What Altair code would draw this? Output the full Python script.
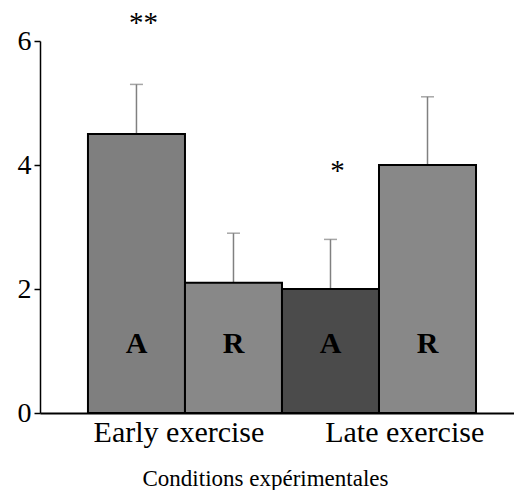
import altair as alt
import pandas as pd

bars = ["Early A", "Early R", "Late A", "Late R"]
letters = ["A", "R", "A", "R"]
means = [4.5, 2.1, 2.0, 4.0]
errors = [0.8, 0.8, 0.8, 1.1]
fills = ["#7f7f7f", "#888888", "#4b4b4b", "#888888"]
groups = ["Early exercise", "Late exercise"]
group_anchor = ["Early A", "Late R"]
stars = ["**", "*"]
star_anchor = ["Early A", "Late A"]

df = pd.DataFrame({"bar": bars, "letter": letters, "mean": means, "err": errors})
df["top"] = df["mean"] + df["err"]

FONT = "Liberation Serif"

xscale = alt.Scale(domain=bars, paddingInner=0, paddingOuter=0.443, align=0.558)
xaxis = alt.Axis(labels=False, ticks=False, grid=False, domainColor="black", domainWidth=2,
                 title="Conditions expérimentales", titleFont=FONT, titleFontSize=23,
                 titleFontWeight="normal", titleColor="black", titlePadding=72,
                 titleBaseline="alphabetic", titleX=225, titleAlign="center")
yscale = alt.Scale(domain=[0, 6], nice=False, zero=True)
yaxis = alt.Axis(values=[0, 2, 4, 6], title=None, grid=False, labelFont=FONT, labelFontSize=28,
                 labelColor="black", tickColor="black", tickSize=6, tickWidth=1.5,
                 domainColor="black", domainWidth=1.5, labelPadding=3)

X = alt.X("bar:N", scale=xscale, axis=xaxis)

base = alt.Chart(df)

err_rule = base.mark_rule(color="#808080", strokeWidth=1.5).encode(
    x=X, y=alt.Y("mean:Q", scale=yscale, axis=yaxis), y2="top:Q")
err_cap = base.mark_tick(color="#808080", thickness=1.5, size=13).encode(
    x=X, y=alt.Y("top:Q", scale=yscale, axis=yaxis))

bar = base.mark_bar(stroke="black", strokeWidth=2).encode(
    x=X,
    y=alt.Y("mean:Q", scale=yscale, axis=yaxis),
    color=alt.Color("bar:N", scale=alt.Scale(domain=bars, range=fills), legend=None),
)

letter = base.mark_text(font=FONT, fontSize=30, fontWeight="bold", color="black",
                        baseline="alphabetic", dy=-60).encode(
    x=X, y=alt.datum(0, scale=yscale, axis=yaxis), text="letter:N")

# significance stars placed above error bars
star_df = pd.DataFrame({"bar": star_anchor, "star": stars})
star_df = star_df.merge(df[["bar", "top"]], on="bar")
star_layers = []
for s, ddy in zip(stars, [-52, -59]):
    star_layers.append(
        alt.Chart(star_df).transform_filter(alt.datum.star == s).mark_text(
            font=FONT, fontSize=29, color="black", baseline="alphabetic", dx=7, dy=ddy
        ).encode(x=X, y=alt.Y("top:Q", scale=yscale, axis=yaxis), text="star:N")
    )

# group labels under axis
grp_df = pd.DataFrame({"bar": group_anchor, "label": groups})
grp_layers = []
for g, bp in zip(groups, [0.938, 0.265]):
    grp_layers.append(
        alt.Chart(grp_df).transform_filter(alt.datum.label == g).mark_text(
            font=FONT, fontSize=30, color="black", baseline="alphabetic", dy=29
        ).encode(x=alt.X("bar:N", scale=xscale, axis=xaxis, bandPosition=bp),
                 y=alt.datum(0, scale=yscale, axis=yaxis), text="label:N")
    )

chart = alt.layer(err_rule, err_cap, bar, letter, *star_layers, *grp_layers).properties(
    width=474, height=372, autosize="none",
    padding={"left": 40, "top": 41, "right": 0, "bottom": 77},
    background="white",
).configure(font=FONT).configure_view(stroke=None, strokeWidth=0)

chart.save("out.html", embed_options={"renderer": "svg", "actions": False})
